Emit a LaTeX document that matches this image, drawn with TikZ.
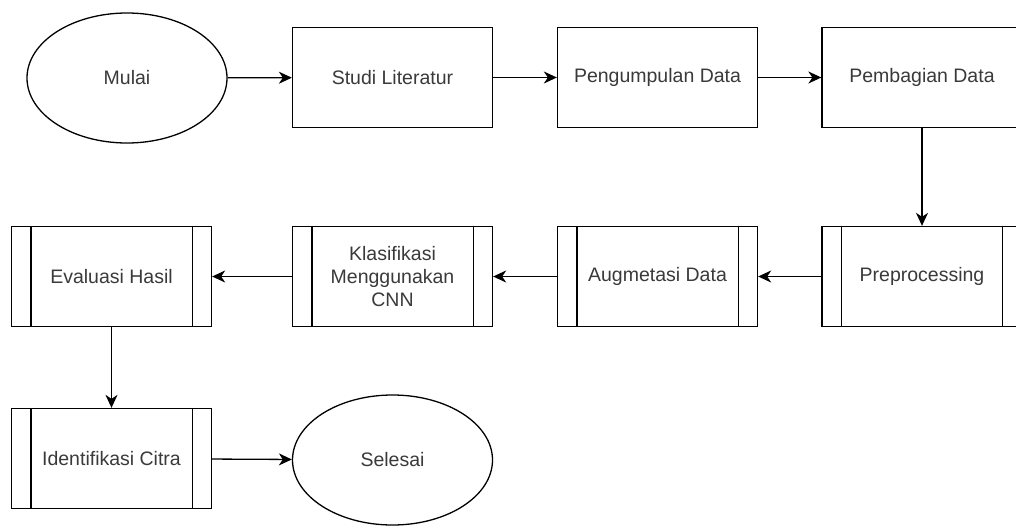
\documentclass[tikz,border=0pt]{standalone}
\usepackage{fontspec}
\setmainfont{Liberation Sans}
\usetikzlibrary{arrows.meta,shapes.geometric}
\definecolor{txt}{HTML}{3A3A3A}
\tikzset{
  every node/.style={font=\fontsize{19.5}{23}\selectfont, text=txt},
  box/.style={draw, line width=1.3pt, minimum width=200pt, minimum height=100pt, inner sep=0pt, align=center},
  terminal/.style={draw, ellipse, line width=1.3pt, minimum width=200pt, minimum height=130pt, inner sep=0pt},
  flow/.style={line width=1.3pt, -{Stealth[length=13pt,width=12pt,inset=4pt]}}
}
\begin{document}
\begin{tikzpicture}[x=1pt,y=-1pt]
\clip (0,0) rectangle (1016,525);
\fill[white] (0,0) rectangle (1016,525);
% first row
\node[terminal] (mulai) at (127,78) {Mulai};
\node[box] (studi) at (392.5,77.5) {Studi Literatur};
\node[box] (kumpul) at (657.5,77.5) {Pengumpulan Data};
\node[box] (bagi) at (922,77.5) {Pembagian Data};
% second row (predefined processes)
\node[box] (pre) at (922,276.5) {Preprocessing};
\node[box] (aug) at (657.5,276.5) {Augmetasi Data};
\node[box] (kla) at (392.5,276.5) {Klasifikasi\\Menggunakan\\CNN};
\node[box] (eva) at (111.5,276.5) {Evaluasi Hasil};
% third row
\node[box] (idn) at (111.5,458.5) {Identifikasi Citra};
\node[terminal] (selesai) at (392.5,460) {Selesai};
% side bars of the predefined-process boxes
\foreach \n in {pre,aug,kla,eva,idn}{
  \draw[line width=1.3pt] ([xshift=20pt]\n.north west) -- ([xshift=20pt]\n.south west);
  \draw[line width=1.3pt] ([xshift=-20pt]\n.north east) -- ([xshift=-20pt]\n.south east);
}
% connectors
\draw[flow] (mulai) -- (studi);
\draw[flow] (studi) -- (kumpul);
\draw[flow] (kumpul) -- (bagi);
\draw[flow] (bagi) -- (pre);
\draw[flow] (pre) -- (aug);
\draw[flow] (aug) -- (kla);
\draw[flow] (kla) -- (eva);
\draw[flow] (eva) -- (idn);
\draw[flow] (idn) -- (selesai);
\end{tikzpicture}
\end{document}
